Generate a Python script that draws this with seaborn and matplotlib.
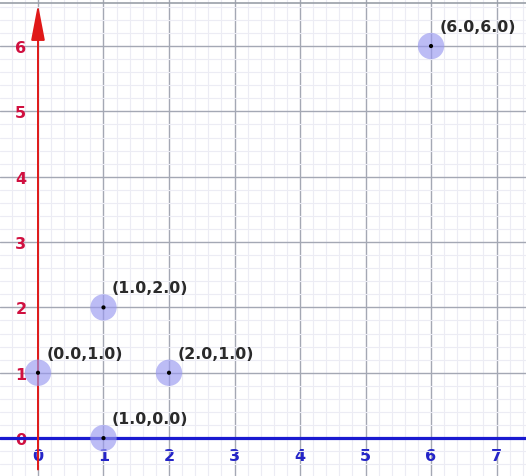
import seaborn as sns
import pandas as pd
import matplotlib
matplotlib.use('Agg')
import matplotlib.pyplot as plt
from matplotlib.ticker import MultipleLocator

# points shown on the plot
x_vals = [0.0, 1.0, 1.0, 2.0, 6.0]
y_vals = [1.0, 2.0, 0.0, 1.0, 6.0]
x_ticks = [0, 1, 2, 3, 4, 5, 6, 7]
y_ticks = [0, 1, 2, 3, 4, 5, 6]

df = pd.DataFrame({'x': x_vals, 'y': y_vals})

sns.set_style('white')
plt.rcParams['font.family'] = ['DejaVu Sans']

fig = plt.figure(figsize=(5.26, 4.77), dpi=100)
ax = fig.add_axes([0, 0, 1, 1])

ax.set_xlim(-0.58, 7.45)
ax.set_ylim(-0.58, 6.72)

# grid: faint minor, gray major
ax.xaxis.set_major_locator(MultipleLocator(1))
ax.yaxis.set_major_locator(MultipleLocator(1))
ax.xaxis.set_minor_locator(MultipleLocator(0.2))
ax.yaxis.set_minor_locator(MultipleLocator(0.2))
ax.grid(which='minor', color='#ececf4', lw=0.8)
ax.grid(which='major', color='#a4a8b4', lw=1.0)
ax.set_axisbelow(True)

ax.set_xticks(x_ticks)
ax.set_yticks(y_ticks)
ax.set_xticklabels([str(t) for t in x_ticks], color='#2424c8', fontweight='bold', fontsize=11.5)
ax.set_yticklabels([str(t) for t in y_ticks], color='#d01040', fontweight='bold', fontsize=11.5)
ax.tick_params(which='both', length=0)
ax.tick_params(axis='x', pad=-20)
ax.tick_params(axis='y', pad=-19)

for side in ['left', 'right', 'bottom', 'top']:
    ax.spines[side].set_visible(False)
ax.axhline(6.66, color='#9aa0a8', lw=1.2)

# axes lines
ax.axhline(0, color='#1a1ad0', lw=2.3, zorder=3)
ax.annotate('', xy=(0, 6.64), xytext=(0, -0.48),
            arrowprops=dict(arrowstyle='-|>,head_length=2.2,head_width=0.42',
                            color='#e01818', lw=1.4, shrinkA=0, shrinkB=0),
            zorder=3)

# points
sns.scatterplot(data=df, x='x', y='y', s=360, color='#9898f0', alpha=0.65,
                edgecolor='none', ax=ax, zorder=4, legend=False)
sns.scatterplot(data=df, x='x', y='y', s=9, color='black',
                edgecolor='none', ax=ax, zorder=5, legend=False)

for xv, yv in zip(x_vals, y_vals):
    ax.annotate(f'({xv:.1f},{yv:.1f})', (xv, yv), xytext=(6, 14),
                textcoords='offset points', va='center', ha='left',
                fontsize=11.3, fontweight='bold', color='#2a2a2a', zorder=6)

ax.set_xlabel('')
ax.set_ylabel('')

plt.savefig('out.png', dpi=100)
